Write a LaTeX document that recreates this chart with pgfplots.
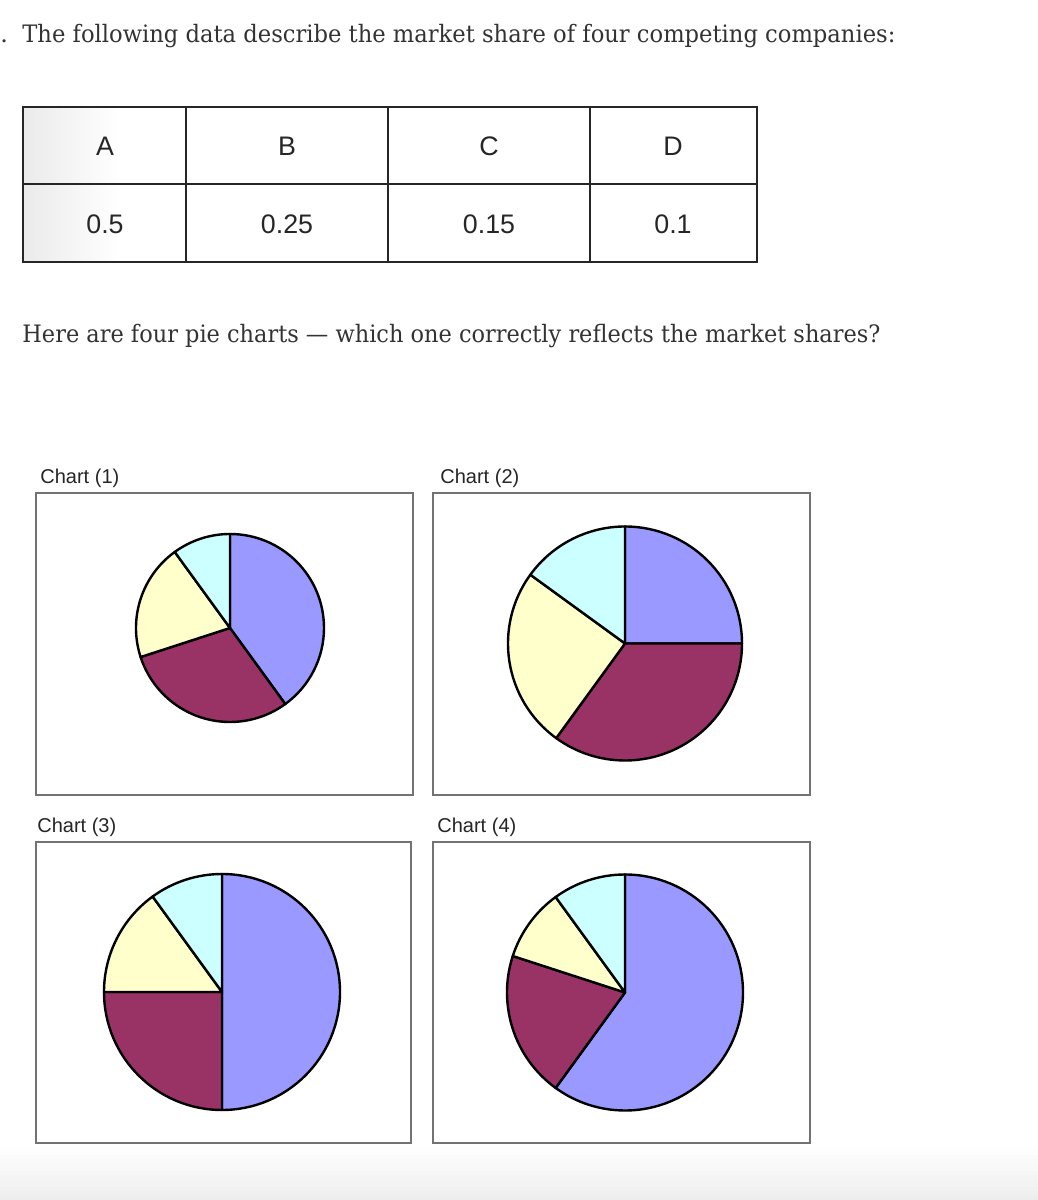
\documentclass[border=0pt]{standalone}
\usepackage{pgfplots}
\pgfplotsset{compat=1.18}
\usepackage{pgfplotstable}
\usepackage{graphicx}
\usepackage{fontspec}
\setmainfont{DejaVu Serif}
\newfontfamily\arial{Liberation Sans}

\definecolor{pie0}{HTML}{9999FF}
\definecolor{pie1}{HTML}{993366}
\definecolor{pie2}{HTML}{FFFFCC}
\definecolor{pie3}{HTML}{CCFFFF}
\definecolor{bodytext}{HTML}{333333}

% market shares A, B, C, D drawn in each chart
\pgfplotstableread{
share
0.4
0.3
0.2
0.1
}\chartone
\pgfplotstableread{
share
0.25
0.35
0.25
0.15
}\charttwo
\pgfplotstableread{
share
0.5
0.25
0.15
0.1
}\chartthree
\pgfplotstableread{
share
0.6
0.2
0.1
0.1
}\chartfour

% wedges clockwise from 12 o'clock, one per table row
\newcommand\drawpie[2]{%
  \def\angstart{90}%
  \pgfplotsforeachungrouped \i in {0,1,2,3}{%
    \pgfplotstablegetelem{\i}{share}\of{#1}%
    \pgfmathsetmacro\angend{\angstart-360*\pgfplotsretval}%
    \edef\piewedge{\noexpand\filldraw[fill=pie\i,draw=black,line width=1.2pt,line join=round]
      (axis cs:0,0) -- ++(\angstart:#2pt) arc[start angle=\angstart,end angle=\angend,radius=#2pt] -- cycle;}%
    \piewedge
    \let\angstart\angend
  }%
}

\pgfplotsset{pieaxis/.style={hide axis, scale only axis, anchor=center,
  xmin=-1, xmax=1, ymin=-1, ymax=1, clip=false}}

\begin{document}
\begin{tikzpicture}[x=0.5pt, y=0.5pt]
% page, 1038 x 1200 px
\useasboundingbox (0,0) rectangle (1038,1200);
\fill[white] (0,0) rectangle (1038,1200);
\shade[top color=white, bottom color=black!7] (0,0) rectangle (1038,55);

% question text
\node[anchor=base west, inner sep=0, text=bodytext] at (0,1157) {\fontsize{12}{14}\selectfont .};
\node[anchor=base west, inner sep=0, text=bodytext] at (22,1157)
  {\resizebox{436.5pt}{\height}{\fontsize{12}{14}\selectfont The following data describe the market share of four competing companies:}};
\node[anchor=base west, inner sep=0, text=bodytext] at (22,857)
  {\resizebox{429pt}{\height}{\fontsize{12}{14}\selectfont Here are four pie charts — which one correctly reflects the market shares?}};

% data table
\shade[left color=black!8, right color=white] (23,1093) rectangle (120,938);
\draw[line width=1.4pt, black!85] (23,1093) rectangle (757,938);
\draw[line width=1.4pt, black!85] (23,1016) -- (757,1016)
  (186,1093) -- (186,938) (388,1093) -- (388,938) (590,1093) -- (590,938);
\begin{scope}[every node/.style={text=black!85, font=\arial\fontsize{13.4}{15}\selectfont}]
\node at (105,1054) {A};
\node at (287,1054) {B};
\node at (489,1054) {C};
\node at (673,1054) {D};
\node at (105,976) {0.5};
\node at (287,976) {0.25};
\node at (489,976) {0.15};
\node at (673,976) {0.1};
\end{scope}

% chart frames and titles
\begin{scope}[draw=black!55, line width=1.1pt]
\draw (36,707) rectangle (413,405);
\draw (433,707) rectangle (810,405);
\draw (36,358) rectangle (411,57);
\draw (433,358) rectangle (810,57);
\end{scope}
\begin{scope}[every node/.style={anchor=base west, inner sep=0, text=black!85, font=\arial\fontsize{10}{12}\selectfont}]
\node at (40,716) {Chart (1)};
\node at (440,716) {Chart (2)};
\node at (37,367) {Chart (3)};
\node at (437,367) {Chart (4)};
\end{scope}

% pies
\begin{axis}[pieaxis, at={(115pt,286pt)}, width=94pt, height=94pt]
\drawpie{\chartone}{47}
\end{axis}
\begin{axis}[pieaxis, at={(312.5pt,278.25pt)}, width=117pt, height=117pt]
\drawpie{\charttwo}{58.5}
\end{axis}
\begin{axis}[pieaxis, at={(111pt,104pt)}, width=118pt, height=118pt]
\drawpie{\chartthree}{59}
\end{axis}
\begin{axis}[pieaxis, at={(312.5pt,103.75pt)}, width=118pt, height=118pt]
\drawpie{\chartfour}{59}
\end{axis}
\end{tikzpicture}
\end{document}
